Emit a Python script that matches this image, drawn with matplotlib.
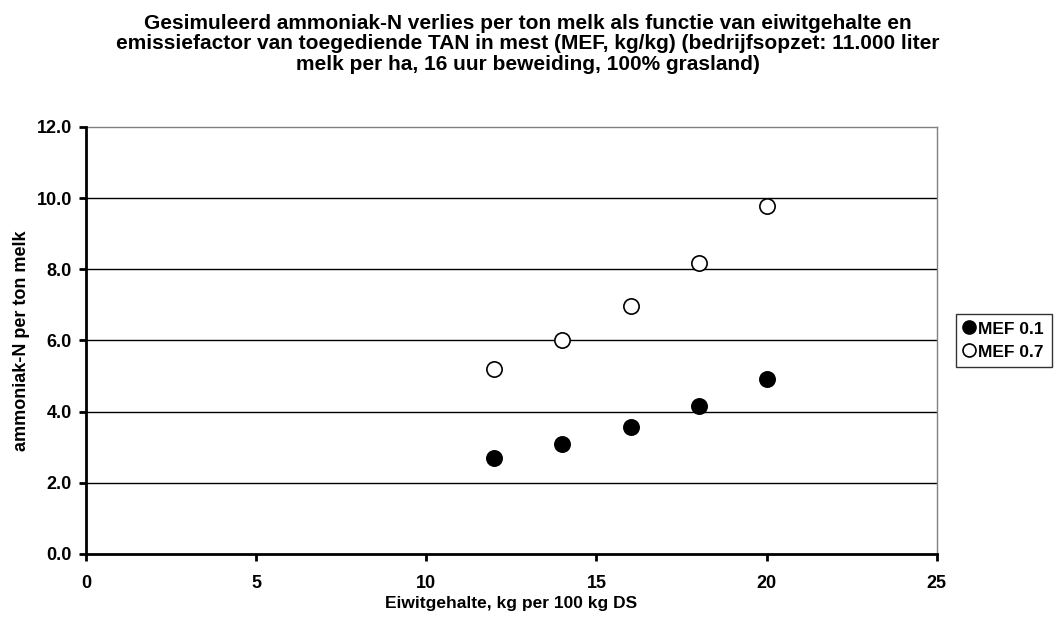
import matplotlib
matplotlib.use("Agg")
import matplotlib.pyplot as plt

plt.rcParams['font.family'] = ['Liberation Sans', 'DejaVu Sans']

eiwit = [12, 14, 16, 18, 20]
mef01 = [2.70, 3.09, 3.57, 4.15, 4.93]
mef07 = [5.20, 6.01, 6.98, 8.18, 9.78]
series_names = ["MEF 0.1", "MEF 0.7"]
title = ("Gesimuleerd ammoniak-N verlies per ton melk als functie van eiwitgehalte en\n"
         "emissiefactor van toegediende TAN in mest (MEF, kg/kg) (bedrijfsopzet: 11.000 liter\n"
         "melk per ha, 16 uur beweiding, 100% grasland)")
xlabel = "Eiwitgehalte, kg per 100 kg DS"
ylabel = "ammoniak-N per ton melk"
xticks = [0, 5, 10, 15, 20, 25]
yticks = [0, 2, 4, 6, 8, 10, 12]

fig = plt.figure(figsize=(10.55, 6.21), dpi=100)
ax = fig.add_axes([0.0815, 0.108, 0.8065, 0.6875])

for y in yticks[1:-1]:
    ax.axhline(y, color='black', lw=1.0, zorder=1)

ax.plot(eiwit, mef01, 'o', ms=11, mfc='black', mec='black', mew=1.2,
        label=series_names[0], zorder=3, clip_on=False)
ax.plot(eiwit, mef07, 'o', ms=11, mfc='white', mec='black', mew=1.2,
        label=series_names[1], zorder=3, clip_on=False)

ax.set_xlim(0, 25)
ax.set_ylim(0, 12)
ax.set_xticks(xticks)
ax.set_yticks(yticks)
ax.set_xticklabels([str(t) for t in xticks], fontweight='bold', fontsize=13)
ax.set_yticklabels([f"{t:.1f}" for t in yticks], fontweight='bold', fontsize=13)
ax.tick_params(axis='both', direction='out', length=5, width=2)
ax.tick_params(axis='x', pad=10)
ax.tick_params(axis='y', pad=5)

for s in ['top', 'right']:
    ax.spines[s].set_color('#808080')
    ax.spines[s].set_linewidth(1.0)
for s in ['left', 'bottom']:
    ax.spines[s].set_linewidth(2)
    ax.spines[s].set_zorder(4)

ax.set_xlabel(xlabel, fontweight='bold', fontsize=12.5, labelpad=3)
ax.set_ylabel(ylabel, fontweight='bold', fontsize=13, labelpad=5)

fig.text(0.5, 0.978, title, ha='center', va='top', fontweight='bold',
         fontsize=15, linespacing=1.1)

leg = ax.legend(loc='center left', bbox_to_anchor=(1.022, 0.5), frameon=True,
                fancybox=False, edgecolor='black', handlelength=0.6,
                handletextpad=0.25, borderpad=0.45, labelspacing=0.45,
                borderaxespad=0.0,
                prop={'weight': 'bold', 'size': 12.5}, markerscale=0.85)
leg.get_frame().set_linewidth(1.0)

fig.savefig("out.png", dpi=100)
